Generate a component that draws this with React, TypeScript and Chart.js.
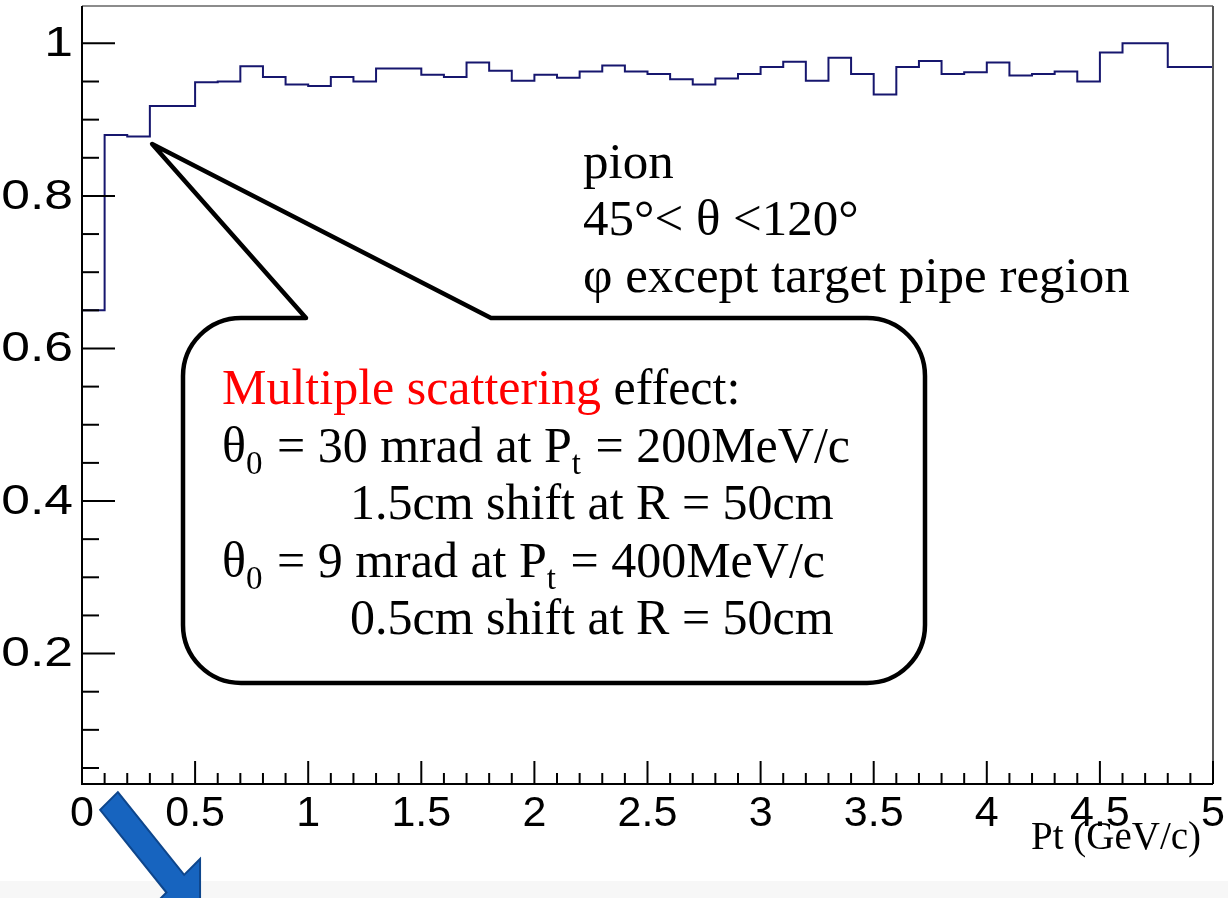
import React, { useEffect, useRef } from "react";
import { Chart, registerables } from "chart.js";

Chart.register(...registerables);

// Pt bins (GeV/c), lower edges, 0.1 GeV/c wide
const ptBinLowEdges = [
  0, 0.1, 0.2, 0.3, 0.4, 0.5, 0.6, 0.7, 0.8, 0.9,
  1.0, 1.1, 1.2, 1.3, 1.4, 1.5, 1.6, 1.7, 1.8, 1.9,
  2.0, 2.1, 2.2, 2.3, 2.4, 2.5, 2.6, 2.7, 2.8, 2.9,
  3.0, 3.1, 3.2, 3.3, 3.4, 3.5, 3.6, 3.7, 3.8, 3.9,
  4.0, 4.1, 4.2, 4.3, 4.4, 4.5, 4.6, 4.7, 4.8, 4.9,
];
const ptUpperEdge = 5;

// Reconstruction efficiency per bin
const efficiency = [
  0.076, 0.650, 0.880, 0.878, 0.918, 0.918, 0.949, 0.950, 0.970, 0.956,
  0.946, 0.944, 0.956, 0.950, 0.967, 0.967, 0.959, 0.956, 0.975, 0.964,
  0.951, 0.959, 0.955, 0.963, 0.971, 0.963, 0.960, 0.953, 0.946, 0.954,
  0.960, 0.969, 0.976, 0.951, 0.981, 0.960, 0.933, 0.969, 0.977, 0.960,
  0.962, 0.975, 0.958, 0.960, 0.963, 0.950, 0.988, 1.000, 1.000, 0.969,
];

const xTickValues = [0, 0.5, 1, 1.5, 2, 2.5, 3, 3.5, 4, 4.5, 5];
const xTickLabels = ["0", "0.5", "1", "1.5", "2", "2.5", "3", "3.5", "4", "4.5", "5"];
const yTickValues = [0.2, 0.4, 0.6, 0.8, 1];
const yTickLabels = ["0.2", "0.4", "0.6", "0.8", "1"];

const xAxisTitle = "Pt (GeV/c)";
const selectionLines = ["pion", "45°< θ <120°", "φ except target pipe region"];

type Run = { text: string; color?: string; sub?: boolean };
const calloutLines: { indent: boolean; runs: Run[] }[] = [
  {
    indent: false,
    runs: [
      { text: "Multiple scattering", color: "#ff0000" },
      { text: " effect:" },
    ],
  },
  {
    indent: false,
    runs: [
      { text: "θ" },
      { text: "0", sub: true },
      { text: " = 30 mrad at P" },
      { text: "t", sub: true },
      { text: " = 200MeV/c" },
    ],
  },
  { indent: true, runs: [{ text: "1.5cm shift at R = 50cm" }] },
  {
    indent: false,
    runs: [
      { text: "θ" },
      { text: "0", sub: true },
      { text: " = 9 mrad at P" },
      { text: "t", sub: true },
      { text: " = 400MeV/c" },
    ],
  },
  { indent: true, runs: [{ text: "0.5cm shift at R = 50cm" }] },
];

const SERIF = '"Liberation Serif", "DejaVu Serif", serif';
const SANS = '"Liberation Sans", Arial, sans-serif';

const decorations = {
  id: "rootStyleDecorations",
  beforeDraw(chart: any) {
    const { ctx, width, height } = chart;
    ctx.save();
    ctx.fillStyle = "#ffffff";
    ctx.fillRect(0, 0, width, height);
    ctx.fillStyle = "#f7f7f7";
    ctx.fillRect(0, 881, width, height - 881);
    ctx.restore();
  },
  afterDraw(chart: any) {
    const { ctx, chartArea } = chart;
    const xs = chart.scales.x;
    const ys = chart.scales.y;
    const { left, right, top, bottom } = chartArea;

    ctx.save();
    // frame
    ctx.lineCap = "butt";
    ctx.strokeStyle = "#8c8c8c";
    ctx.lineWidth = 2;
    ctx.beginPath();
    ctx.moveTo(left, top);
    ctx.lineTo(right, top);
    ctx.stroke();
    ctx.strokeStyle = "#555555";
    ctx.beginPath();
    ctx.moveTo(right, top);
    ctx.lineTo(right, bottom);
    ctx.stroke();

    // axes
    ctx.strokeStyle = "#000000";
    ctx.lineWidth = 2;
    ctx.beginPath();
    ctx.moveTo(left, top);
    ctx.lineTo(left, bottom);
    ctx.lineTo(right, bottom);
    ctx.stroke();

    // y ticks (inside)
    for (let k = 1; k * 0.05 <= ys.max + 1e-9; k++) {
      const v = k * 0.05;
      if (v < ys.min) continue;
      const major = k % 4 === 0;
      const py = ys.getPixelForValue(v);
      ctx.beginPath();
      ctx.moveTo(left, py);
      ctx.lineTo(left + (major ? 33 : 17), py);
      ctx.stroke();
    }
    // x ticks (inside)
    for (let k = 0; k <= 50; k++) {
      const v = k * 0.1;
      const major = k % 5 === 0;
      const px = xs.getPixelForValue(v);
      ctx.beginPath();
      ctx.moveTo(px, bottom);
      ctx.lineTo(px, bottom - (major ? 23 : 11));
      ctx.stroke();
    }

    // y tick labels (slightly widened glyphs)
    ctx.fillStyle = "#000";
    ctx.font = `43px ${SANS}`;
    ctx.textAlign = "right";
    ctx.textBaseline = "middle";
    yTickValues.forEach((v, i) => {
      const py = ys.getPixelForValue(v);
      ctx.save();
      ctx.translate(left - 9, py + 1);
      ctx.scale(1.2, 1);
      ctx.fillText(yTickLabels[i], 0, 0);
      ctx.restore();
    });

    // selection text
    ctx.fillStyle = "#000";
    ctx.textBaseline = "alphabetic";
    ctx.textAlign = "left";
    ctx.font = `51px ${SERIF}`;
    const selBase = [178, 235, 292];
    selectionLines.forEach((line, i) => ctx.fillText(line, 583, selBase[i]));

    // callout bubble with pointer
    const bx0 = 183, bx1 = 925, by0 = 318, by1 = 683, r = 58;
    const tip = { x: xs.getPixelForValue(0.31), y: ys.getPixelForValue(0.868) };
    ctx.beginPath();
    ctx.moveTo(bx0 + r, by0);
    ctx.lineTo(306, by0);
    ctx.lineTo(tip.x, tip.y);
    ctx.lineTo(491, by0);
    ctx.lineTo(bx1 - r, by0);
    ctx.arcTo(bx1, by0, bx1, by0 + r, r);
    ctx.lineTo(bx1, by1 - r);
    ctx.arcTo(bx1, by1, bx1 - r, by1, r);
    ctx.lineTo(bx0 + r, by1);
    ctx.arcTo(bx0, by1, bx0, by1 - r, r);
    ctx.lineTo(bx0, by0 + r);
    ctx.arcTo(bx0, by0, bx0 + r, by0, r);
    ctx.closePath();
    ctx.fillStyle = "#ffffff";
    ctx.fill();
    ctx.lineWidth = 4.5;
    ctx.lineJoin = "round";
    ctx.strokeStyle = "#000";
    ctx.stroke();

    // callout text
    const baseFont = `50px ${SERIF}`;
    const subFont = `33px ${SERIF}`;
    calloutLines.forEach((line, i) => {
      let x = line.indent ? 350 : 222;
      const base = 404 + i * 57.5;
      line.runs.forEach((run) => {
        ctx.font = run.sub ? subFont : baseFont;
        ctx.fillStyle = run.color || "#000";
        ctx.fillText(run.text, x, base + (run.sub ? 12 : 0));
        x += ctx.measureText(run.text).width + (run.sub ? 2 : 0);
      });
    });

    // x-axis title
    ctx.font = `39px ${SERIF}`;
    ctx.fillStyle = "#000";
    ctx.fillText(xAxisTitle, 1031, 849);

    // blue block arrow
    const s = Math.SQRT1_2;
    const ux = s, uy = s, nx = s, ny = -s;
    const S = { x: 109, y: 801 };
    const H = { x: 175.3, y: 883.7 };
    const hw = 12.5, hh = 35;
    const pts = [
      [S.x + nx * hw, S.y + ny * hw],
      [H.x + nx * hw, H.y + ny * hw],
      [H.x + nx * hh, H.y + ny * hh],
      [H.x + ux * hh, H.y + uy * hh],
      [H.x - nx * hh, H.y - ny * hh],
      [H.x - nx * hw, H.y - ny * hw],
      [S.x - nx * hw, S.y - ny * hw],
    ];
    ctx.beginPath();
    pts.forEach(([px, py], i) => (i === 0 ? ctx.moveTo(px, py) : ctx.lineTo(px, py)));
    ctx.closePath();
    ctx.fillStyle = "#1764bf";
    ctx.fill();
    ctx.strokeStyle = "#0e468c";
    ctx.lineWidth = 2;
    ctx.lineJoin = "miter";
    ctx.stroke();

    ctx.restore();
  },
};

export default function App() {
  const canvasRef = useRef<HTMLCanvasElement | null>(null);

  useEffect(() => {
    document.body.style.margin = "0";
    const canvas = canvasRef.current;
    if (!canvas) return;

    const points = ptBinLowEdges.map((x, i) => ({ x, y: efficiency[i] }));
    points.push({ x: ptUpperEdge, y: efficiency[efficiency.length - 1] });

    const chart = new Chart(canvas, {
      type: "line",
      data: {
        datasets: [
          {
            data: points,
            stepped: "after",
            borderColor: "#16166e",
            borderWidth: 2,
            pointRadius: 0,
            fill: false,
          },
        ],
      },
      options: {
        animation: false,
        responsive: false,
        devicePixelRatio: 1,
        layout: { padding: { top: 6, right: 15, left: 0, bottom: 0 } },
        plugins: {
          legend: { display: false },
          tooltip: { enabled: false },
        },
        scales: {
          x: {
            type: "linear",
            min: 0,
            max: ptUpperEdge,
            afterBuildTicks: (scale: any) => {
              scale.ticks = xTickValues.map((value) => ({ value }));
            },
            afterFit: (scale: any) => {
              scale.height = 114;
              scale.paddingLeft = 0;
              scale.paddingRight = 0;
            },
            ticks: {
              autoSkip: false,
              maxRotation: 0,
              padding: 4,
              color: "#000",
              font: { family: SANS, size: 43 },
              callback: (value: any) => xTickLabels[xTickValues.indexOf(Number(value))] ?? "",
            },
            grid: { display: false, drawTicks: false },
            border: { display: false },
          },
          y: {
            type: "linear",
            min: 0.029,
            max: 1.049,
            afterBuildTicks: (scale: any) => {
              scale.ticks = yTickValues.map((value) => ({ value }));
            },
            afterFit: (scale: any) => {
              scale.width = 82;
              scale.paddingTop = 0;
              scale.paddingBottom = 0;
            },
            ticks: { display: false },
            grid: { display: false, drawTicks: false },
            border: { display: false },
          },
        },
      },
      plugins: [decorations],
    });

    return () => chart.destroy();
  }, []);

  return (
    <div style={{ position: "absolute", left: 0, top: 0, width: 1228, height: 898 }}>
      <canvas ref={canvasRef} width={1228} height={898} style={{ display: "block" }} />
    </div>
  );
}
